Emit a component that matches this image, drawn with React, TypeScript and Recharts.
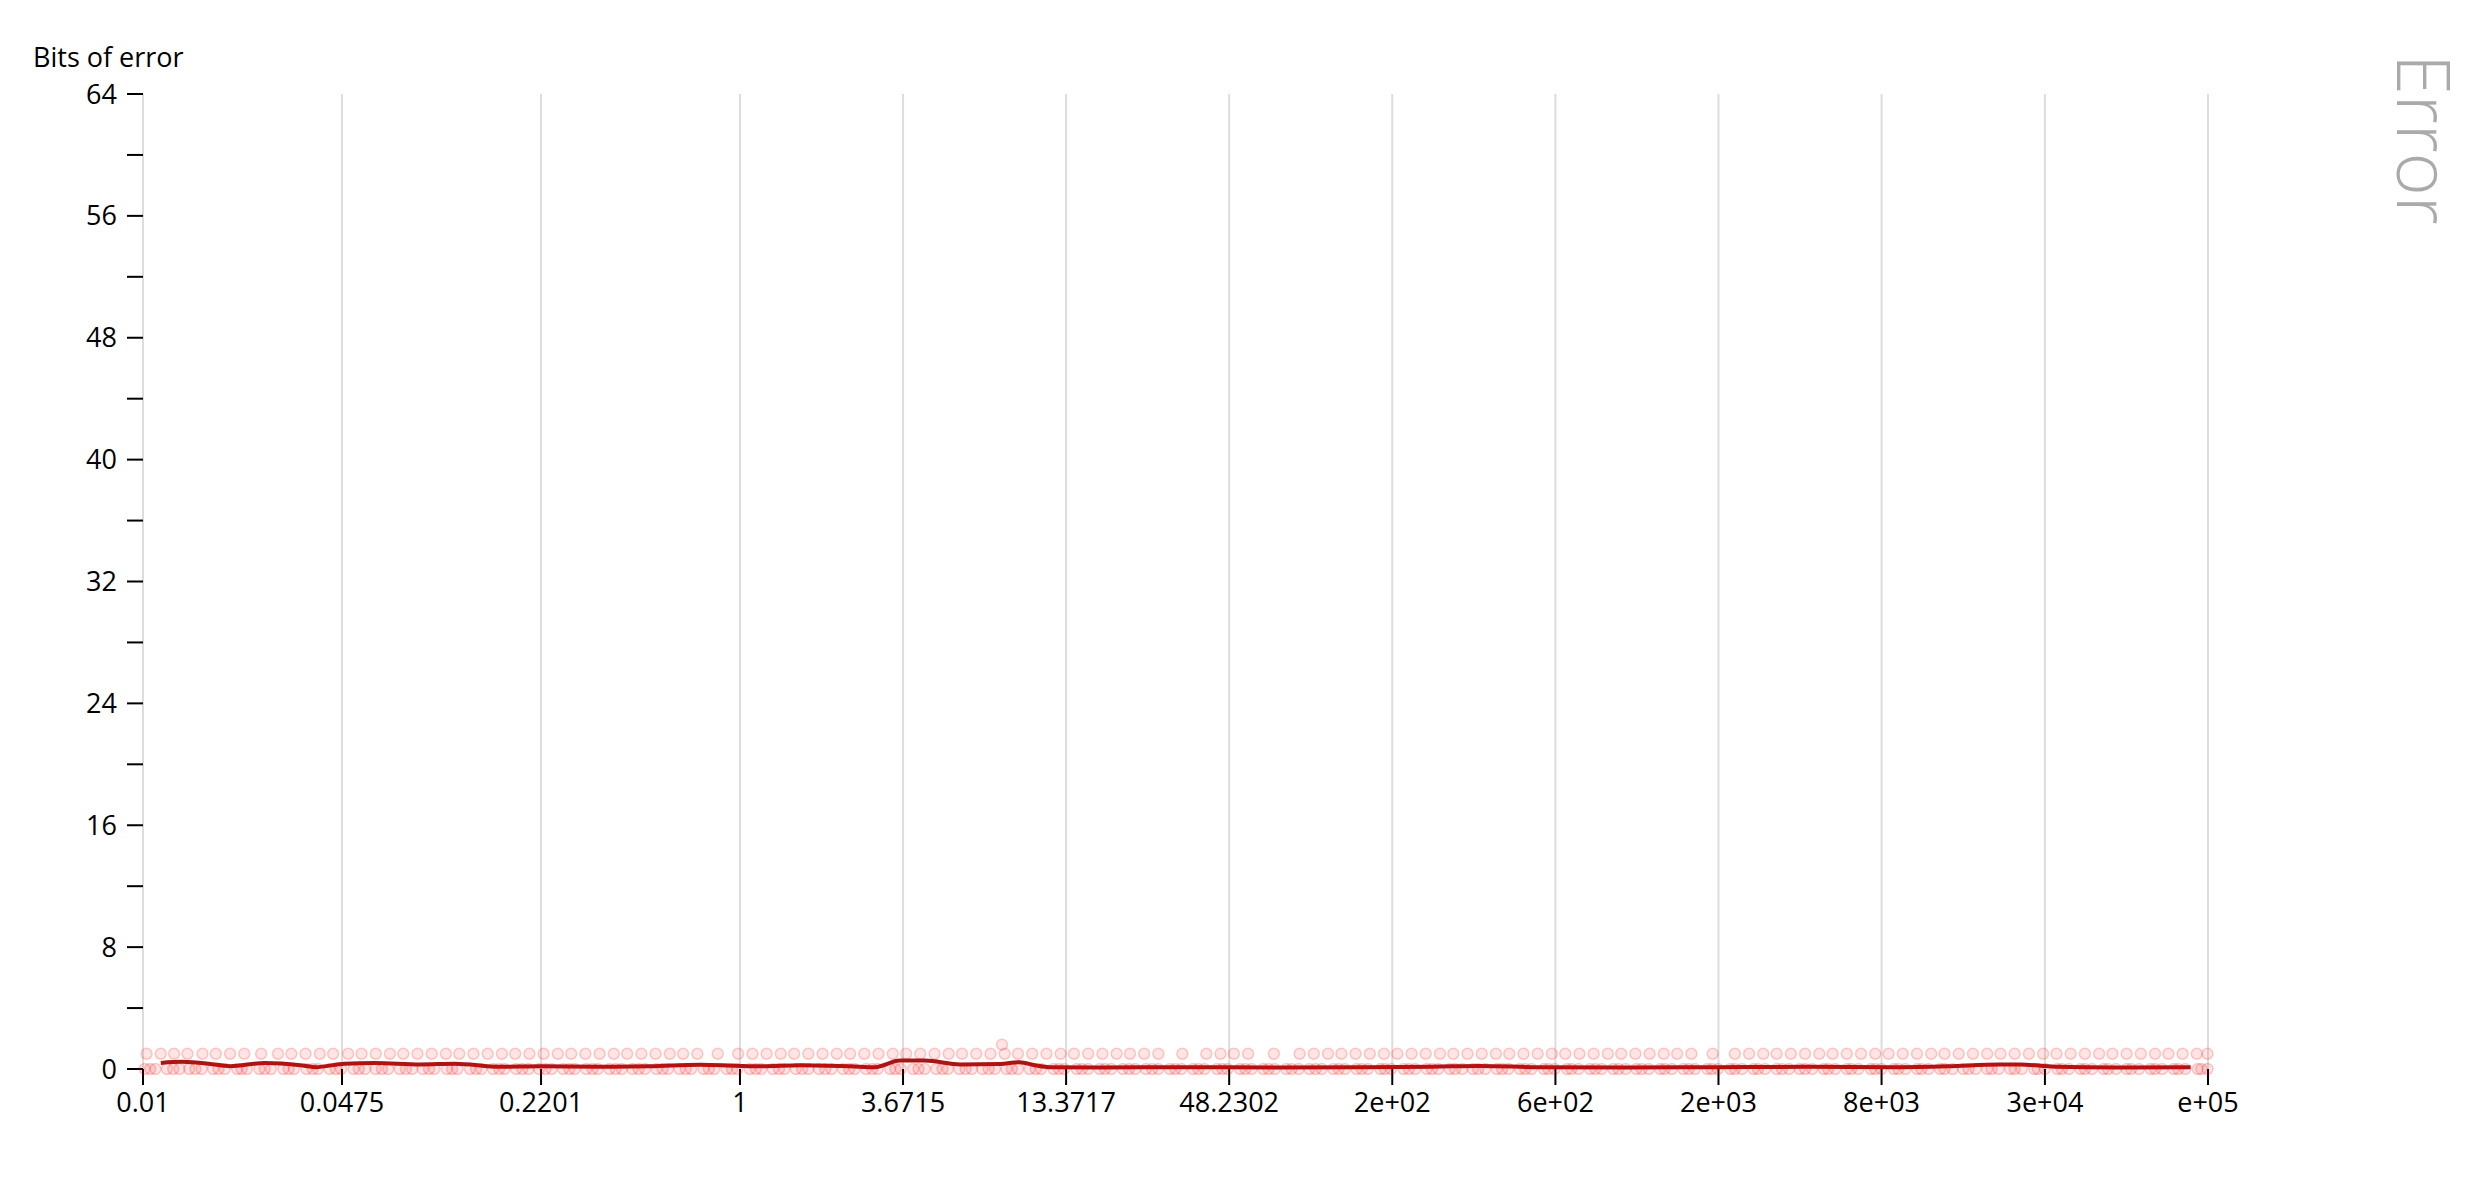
import React from 'react';
import { ScatterChart, Scatter, XAxis, YAxis, CartesianGrid } from 'recharts';

// x positions are in "float ordinal" units: exponent + (mantissa - 1)
const tickValues = [0.01, 0.0475, 0.2201, 1, 3.6715, 13.3717, 48.2302, 171.9, 604, 2079, 7582, 27690, 100000];
const tickLabels = ['0.01', '0.0475', '0.2201', '1', '3.6715', '13.3717', '48.2302', '2e+02', '6e+02', '2e+03', '8e+03', '3e+04', 'e+05'];
const yTicks = [0, 4, 8, 12, 16, 20, 24, 28, 32, 36, 40, 44, 48, 52, 56, 60, 64];

// sampled points with 0 bits of error
const zeroRowX = [
  -6.70, -6.58, -6.45, -6.31, -6.20, -6.06, -5.93, -5.80, -5.66, -5.55, -5.41, -5.28, -5.14, -5.02, -4.88, -4.75,
  -4.62, -4.49, -4.35, -4.22, -4.10, -3.96, -3.83, -3.69, -3.57, -3.44, -3.30, -3.18, -3.04, -2.91, -2.78, -2.65,
  -2.52, -2.38, -2.26, -2.12, -1.99, -1.86, -1.73, -1.60, -1.47, -1.33, -1.21, -1.07, -0.94, -0.81, -0.68, -0.55,
  -0.41, -0.29, -0.15, -0.03, 0.11, 0.24, 0.37, 0.50, 0.63, 0.77, 0.89, 1.03, 1.16, 1.29, 1.42, 1.55, 1.69, 1.81,
  1.95, 2.08, 2.21, 2.34, 2.47, 2.61, 2.73, 2.87, 3.00, 3.13, 3.26, 3.39, 3.53, 3.65, 3.79, 3.92, 4.05, 4.18, 4.31,
  4.45, 4.57, 4.71, 4.84, 4.97, 5.10, 5.23, 5.37, 5.49, 5.63, 5.76, 5.89, 6.02, 6.15, 6.29, 6.41, 6.55, 6.68, 6.81,
  6.94, 7.07, 7.21, 7.33, 7.47, 7.60, 7.73, 7.86, 7.99, 8.13, 8.25, 8.39, 8.52, 8.65, 8.78, 8.91, 9.05, 9.17, 9.31,
  9.44, 9.57, 9.70, 9.83, 9.97, 10.09, 10.23, 10.36, 10.49, 10.62, 10.75, 10.89, 11.01, 11.15, 11.28, 11.41, 11.54,
  11.67, 11.81, 11.93, 12.07, 12.20, 12.33, 12.46, 12.59, 12.73, 12.85, 12.99, 13.12, 13.25, 13.38, 13.51, 13.65,
  13.77, 13.91, 14.04, 14.17, 14.30, 14.43, 14.57, 14.69, 14.83, 14.96, 15.09, 15.22, 15.35, 15.49, 15.61, 15.75,
  15.88, 16.01, 16.14, 16.27, 16.41, 16.52,
];

// extra overlapping 0-error samples (the bottom band is denser)
const zeroRowX2 = [
  -6.64, -6.38, -6.13, -5.87, -5.61, -5.35, -5.08, -4.81, -4.55, -4.29, -4.03, -3.76, -3.50, -3.24, -2.97, -2.71,
  -2.45, -2.19, -1.92, -1.66, -1.40, -1.14, -0.87, -0.61, -0.35, -0.09, 0.18, 0.44, 0.70, 0.96, 1.23, 1.49, 1.75,
  2.01, 2.28, 2.54, 2.80, 3.06, 3.33, 3.59, 3.85, 4.11, 4.38, 4.64, 4.90, 5.16, 5.43, 5.69, 5.95, 6.21, 6.48, 6.74,
  7.00, 7.26, 7.53, 7.79, 8.05, 8.31, 8.58, 8.84, 9.10, 9.36, 9.63, 9.89, 10.15, 10.41, 10.68, 10.94, 11.20, 11.46,
  11.73, 11.99, 12.25, 12.51, 12.78, 13.04, 13.30, 13.56, 13.83, 14.09, 14.35, 14.61, 14.88, 15.14, 15.40, 15.66,
  15.93, 16.19, 16.45,
];

// sampled points with 1 bit of error
const oneRowX = [
  -6.68, -6.52, -6.37, -6.22, -6.05, -5.90, -5.74, -5.58, -5.39, -5.20, -5.05, -4.89, -4.73, -4.58, -4.41, -4.26, -4.10,
  -3.94, -3.79, -3.63, -3.47, -3.31, -3.16, -3.00, -2.84, -2.68, -2.53, -2.37, -2.21, -2.05, -1.90, -1.74, -1.58,
  -1.42, -1.27, -1.11, -0.95, -0.79, -0.64, -0.48, -0.25, -0.02, 0.14, 0.30, 0.46, 0.61, 0.77, 0.93, 1.09, 1.24, 1.40,
  1.56, 1.72, 1.87, 2.03, 2.19, 2.35, 2.50, 2.66, 2.82, 2.98, 3.13, 3.29, 3.45, 3.61, 3.76, 3.92, 4.08, 4.24, 4.39,
  4.55, 4.71, 4.98, 5.25, 5.41, 5.56, 5.72, 6.01, 6.30, 6.46, 6.62, 6.77, 6.93, 7.09, 7.25, 7.40, 7.56, 7.72, 7.88, 8.03, 8.19,
  8.35, 8.51, 8.66, 8.82, 8.98, 9.14, 9.29, 9.45, 9.61, 9.77, 9.92, 10.08, 10.24, 10.40, 10.55, 10.71, 10.95, 11.20, 11.36,
  11.52, 11.67, 11.83, 11.99, 12.15, 12.30, 12.46, 12.62, 12.78, 12.93, 13.09, 13.25, 13.41, 13.56, 13.72, 13.88,
  14.04, 14.19, 14.35, 14.51, 14.67, 14.82, 14.98, 15.14, 15.30, 15.45, 15.61, 15.77, 15.93, 16.08, 16.24, 16.40, 16.52,
];

const strayX = [2.95];
const strayY = [1.6];

// averaged error line
const avgX = [
  -6.52, -6.28, -5.98, -5.74, -5.35, -4.95, -4.78, -4.45, -4.11, -3.60, -3.21, -2.70, -2.25, -1.58, -1.01, -0.45,
  -0.06, 0.23, 0.68, 1.24, 1.52, 1.80, 2.08, 2.48, 2.93, 3.15, 3.32, 3.49, 4.05, 5.0, 6.0, 7.0, 7.8, 8.33, 9.0,
  10.0, 11.0, 12.0, 13.0, 13.6, 14.18, 14.41, 14.8, 15.5, 16.33,
];
const avgY = [
  0.40, 0.47, 0.35, 0.18, 0.40, 0.25, 0.12, 0.35, 0.40, 0.30, 0.35, 0.15, 0.18, 0.15, 0.18, 0.28,
  0.22, 0.18, 0.25, 0.18, 0.12, 0.55, 0.55, 0.30, 0.33, 0.45, 0.25, 0.12, 0.10, 0.12, 0.10, 0.12, 0.15, 0.20, 0.12,
  0.10, 0.12, 0.14, 0.12, 0.18, 0.30, 0.30, 0.15, 0.10, 0.12,
];

function ord(v: number) {
  const e = Math.floor(Math.log2(v));
  return e + (v / Math.pow(2, e) - 1);
}

const xTicks = tickValues.map(ord);
const xDomain = [ord(tickValues[0]), ord(tickValues[tickValues.length - 1])];

const zeroData = zeroRowX.concat(zeroRowX2).map((x) => ({ x, y: 0 }));
const oneData = oneRowX.map((x) => ({ x, y: 1 })).concat(strayX.map((x, i) => ({ x, y: strayY[i] })));
const avgData = avgX.map((x, i) => ({ x, y: avgY[i] }));

const FONT = '"Open Sans", sans-serif';

const Dot = (props: any) => (
  <circle
    cx={props.cx}
    cy={props.cy}
    r={5.5}
    fill="#ff0000"
    fillOpacity={0.1}
    stroke="#ff0000"
    strokeOpacity={0.2}
    strokeWidth={1.5}
  />
);

export default function App() {
  const xLabel = (v: number) => {
    const i = xTicks.findIndex((t) => Math.abs(t - v) < 1e-6);
    return i >= 0 ? tickLabels[i] : '';
  };

  return (
    <div style={{ position: 'relative', width: 2470, height: 1170, fontFamily: FONT }}>
      <div style={{ position: 'absolute', left: 25, top: 30, fontSize: 27, color: '#000' }}>Bits of error</div>
      <div
        style={{
          position: 'absolute',
          left: 2380,
          top: 46,
          fontSize: 74,
          fontWeight: 300,
          lineHeight: 1,
          color: '#aaaaaa',
          writingMode: 'vertical-rl',
        }}
      >
        Error
      </div>
      <ScatterChart width={2470} height={1170} margin={{ top: 86, right: 270, bottom: 49, left: 0 }}>
        <CartesianGrid horizontal={false} stroke="#dddddd" strokeWidth={2} />
        <XAxis
          type="number"
          dataKey="x"
          domain={xDomain}
          ticks={xTicks}
          interval={0}
          tickFormatter={xLabel}
          axisLine={false}
          tickLine={{ stroke: '#000', strokeWidth: 2 }}
          tickSize={16}
          tickMargin={8}
          height={60}
          tick={{ fill: '#000', fontSize: 27, fontFamily: FONT }}
        />
        <YAxis
          type="number"
          dataKey="y"
          domain={[0, 64]}
          ticks={yTicks}
          interval={0}
          tickFormatter={(v: number) => (v % 8 === 0 ? String(v) : '')}
          axisLine={false}
          tickLine={{ stroke: '#000', strokeWidth: 2 }}
          tickSize={16}
          tickMargin={10}
          width={135}
          tick={{ fill: '#000', fontSize: 27, fontFamily: FONT }}
        />
        <Scatter
          data={avgData}
          line={{ stroke: '#a51616', strokeWidth: 4 }}
          lineJointType="monotoneX"
          shape={() => <g />}
          isAnimationActive={false}
        />
        <Scatter data={zeroData} shape={Dot} isAnimationActive={false} />
        <Scatter data={oneData} shape={Dot} isAnimationActive={false} />
      </ScatterChart>
    </div>
  );
}
